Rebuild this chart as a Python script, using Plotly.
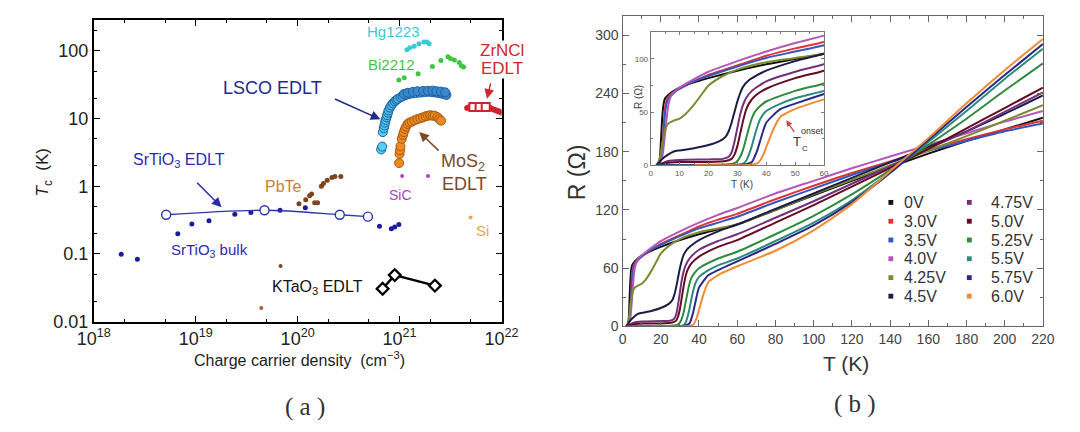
import plotly.graph_objects as go

W, H = 1080, 432
def px(x):
    return x / W
def py(y):
    return 1 - y / H

# ================= Panel (a) data =================
sto_bulk_n = [1.86e18, 2.68e18, 6.67e18, 9.17e18, 1.35e19, 2.42e19, 3.48e19, 6.72e19, 1.19e20,
              6.35e20, 8.3e20, 8.96e20, 9.84e20]
sto_bulk_tc = [0.099, 0.083, 0.199, 0.277, 0.31, 0.386, 0.409, 0.441, 0.482,
               0.255, 0.235, 0.249, 0.272]

sto_edlt_n = [5.13e18, 4.73e19, 2.59e20, 4.89e20]
sto_edlt_tc = [0.379, 0.441, 0.379, 0.355]

ktao_n = [6.82e20, 8.96e20, 2.22e21]
ktao_tc = [0.0305, 0.0486, 0.034]

pbte_n = [1.03e20, 1.2e20, 1.31e20, 1.37e20, 1.47e20, 1.57e20, 1.71e20, 1.79e20, 1.95e20,
          2.17e20, 2.32e20, 2.65e20]
pbte_tc = [0.55, 0.63, 0.72, 0.77, 0.57, 0.57, 1.0, 1.1, 1.22, 1.35, 1.39, 1.39]

other_n = [6.8e19, 4.4e19]
other_tc = [0.066, 0.0159]

lsco_n = [6.6e20, 6.75e20, 6.85e20, 7.0e20, 7.1e20, 7.2e20, 7.3e20, 7.45e20, 7.55e20, 7.7e20,
          7.8e20, 8.05e20, 8.3e20, 8.6e20, 8.95e20, 9.3e20, 9.6e20, 1.02e21, 1.07e21, 1.15e21,
          1.24e21, 1.33e21, 1.44e21, 1.55e21, 1.66e21, 1.79e21, 1.93e21, 2.08e21, 2.23e21,
          2.37e21, 2.5e21, 2.65e21, 2.88e21,
          1.1e21, 1.2e21, 1.35e21, 1.5e21, 1.7e21, 1.9e21, 2.1e21, 2.3e21, 2.55e21, 2.8e21]
lsco_tc = [3.5, 3.85, 6.3, 7.2, 7.9, 8.7, 9.5, 10.4, 11.2, 12.2,
           13.2, 14.5, 15.6, 16.8, 17.9, 18.8, 19.5, 20.5, 21.3, 22.2,
           23.0, 23.5, 23.8, 24.2, 24.3, 24.6, 24.9, 24.6, 24.3,
           24.0, 23.6, 23.2, 22.3,
           23.0, 24.0, 24.8, 25.3, 25.6, 25.7, 25.8, 25.4, 25.0, 24.4]

mos2_n = [9.9e20, 1.0e21, 1.01e21, 1.02e21, 1.05e21, 1.08e21, 1.1e21, 1.13e21, 1.16e21, 1.2e21,
          1.25e21, 1.32e21, 1.4e21, 1.5e21, 1.6e21, 1.7e21, 1.8e21, 1.9e21, 2.0e21, 2.1e21,
          2.2e21, 2.35e21, 2.45e21, 2.55e21]
mos2_tc = [2.2, 3.0, 3.4, 3.9, 5.0, 5.7, 6.3, 7.0, 7.6, 8.3,
           8.7, 9.0, 9.4, 9.8, 10.1, 10.4, 10.8, 11.0, 11.2, 11.0,
           11.0, 10.5, 9.8, 9.3]

bi_n = [9.84e20, 1.11e21, 1.52e21, 2.1e21, 2.54e21, 2.98e21, 3.16e21, 3.45e21, 3.85e21, 4.05e21, 4.24e21]
bi_tc = [37, 40, 46, 58.9, 71.8, 82, 77.4, 73.5, 67.2, 60.3, 57.5]

hg_n = [1.18e21, 1.26e21, 1.39e21, 1.55e21, 1.73e21, 1.86e21, 1.95e21]
hg_tc = [104, 111, 117, 127, 135, 135, 127]

sic_n = [1.06e21, 1.9e21]
sic_tc = [1.41, 1.41]

si_n = [4.97e21]
si_tc = [0.346]

zr_dot_n = [4.6e21, 4.85e21, 7.6e21, 8.0e21, 8.5e21, 9.0e21, 9.5e21, 1.0e22]
zr_dot_tc = [14.3, 14.8, 14.6, 14.0, 13.5, 13.0, 12.7, 12.3]
zr_sq_n = [5.3e21, 6.1e21, 7.0e21]
zr_sq_tc = [14.8, 14.8, 14.8]

a_xticks = [1e18, 1e19, 1e20, 1e21, 1e22]
a_xtext = ["10<sup>18</sup>", "10<sup>19</sup>", "10<sup>20</sup>", "10<sup>21</sup>", "10<sup>22</sup>"]
a_yticks = [0.01, 0.1, 1, 10, 100]
a_ytext = ["0.01", "0.1", "1", "10", "100"]

# ================= Panel (b) data =================
voltages = ["0V", "3.0V", "3.5V", "4.0V", "4.25V", "4.5V", "4.75V", "5.0V", "5.25V", "5.5V", "5.75V", "6.0V"]

T_0V = [2, 3, 3.5, 4, 4.5, 5, 6, 8, 10, 15, 20, 30, 40, 50, 60, 80, 100, 120, 140, 160, 180, 200, 220]
R_0V = [0, 4, 20, 45, 58, 63, 66, 70, 73, 78, 82, 89, 95, 100, 105, 120, 135, 150, 164, 178, 191, 203, 215]

T_30V = [2, 3, 4, 4.5, 5, 6, 8, 10, 15, 20, 30, 40, 50, 60, 80, 100, 120, 140, 160, 180, 200, 220]
R_30V = [0, 3, 15, 35, 55, 64, 69, 72, 79, 85, 94, 103, 110, 116, 131, 145, 158, 170, 182, 193, 203, 212]

T_35V = [2, 3, 4, 4.5, 5, 6, 8, 10, 15, 20, 30, 40, 50, 60, 80, 100, 120, 140, 160, 180, 200, 220]
R_35V = [0, 3, 12, 30, 50, 62, 68, 72, 79, 84, 93, 101, 107, 113, 128, 142, 156, 169, 181, 191, 201, 209]

T_40V = [2, 3, 4, 5, 6, 7, 8, 10, 15, 20, 30, 40, 50, 60, 80, 100, 120, 140, 160, 180, 200, 220]
R_40V = [0, 2, 8, 30, 55, 65, 69, 73, 81, 88, 98, 107, 115, 122, 137, 150, 163, 175, 187, 199, 211, 222]

T_425V = [2, 3, 4, 5, 6, 8, 10, 12, 15, 18, 20, 25, 30, 40, 50, 60, 80, 100, 120, 140, 160, 180, 200, 220]
R_425V = [0, 5, 20, 33, 39, 42, 44, 48, 57, 68, 75, 84, 90, 97, 101, 105, 120, 136, 151, 166, 181, 196, 212, 228]

T_45V = [2, 3, 4, 6, 8, 10, 15, 20, 24, 26, 27, 28, 29, 30, 31, 32, 34, 37, 40, 50, 60,
         80, 100, 120, 140, 160, 180, 200, 220]
R_45V = [0, 3, 6, 10, 13, 14, 16, 19, 23, 27, 32, 40, 50, 60, 68, 74, 80, 85, 89, 98, 105,
         121, 137, 153, 169, 185, 201, 219, 238]

T_475V = [2, 4, 6, 10, 20, 25, 27, 28, 29, 30, 31, 32, 33, 35, 40, 50, 60,
          80, 100, 120, 140, 160, 180, 200, 220]
R_475V = [0, 2, 4, 5, 5.5, 6, 8, 12, 22, 35, 48, 57, 63, 70, 79, 88, 95,
          112, 129, 147, 165, 183, 201, 221, 241]

T_50V = [2, 5, 10, 20, 26, 28, 29, 30, 31, 32, 33, 34, 36, 40, 50, 60,
         80, 100, 120, 140, 160, 180, 200, 220]
R_50V = [0, 2, 3, 3, 4, 6, 10, 18, 30, 42, 52, 58, 65, 72, 82, 89,
         107, 125, 144, 163, 183, 204, 225, 246]

T_525V = [2, 10, 20, 27, 29, 30, 31, 32, 33, 34, 35, 36, 38, 40, 50, 60,
          80, 100, 120, 140, 160, 180, 200, 220]
R_525V = [0, 0, 0.5, 1, 2, 4, 8, 15, 25, 35, 44, 50, 56, 60, 70, 77,
          95, 114, 136, 161, 187, 214, 243, 271]

T_55V = [2, 20, 30, 32, 33, 34, 35, 36, 37, 38, 40, 45, 50, 60,
         80, 100, 120, 140, 160, 180, 200, 220]
R_55V = [0, 0, 0.5, 1.5, 4, 10, 18, 28, 37, 44, 51, 58, 63, 70,
         88, 107, 130, 159, 190, 222, 255, 286]

T_575V = [2, 30, 33, 35, 36, 37, 38, 39, 40, 42, 45, 50, 60,
          80, 100, 120, 140, 160, 180, 200, 220]
R_575V = [0, 0, 1, 3, 8, 15, 24, 33, 40, 46, 53, 58, 67,
          85, 104, 128, 158, 192, 226, 259, 291]

T_60V = [15, 30, 35, 37, 38, 39, 40, 41, 42, 43, 44, 45, 47, 50, 60,
         80, 100, 120, 140, 160, 180, 200, 220]
R_60V = [0, 0, 0.5, 2, 5, 10, 17, 24, 31, 37, 42, 46, 49, 53, 62,
         78, 99, 126, 160, 194, 230, 264, 296]

b_T = [T_0V, T_30V, T_35V, T_40V, T_425V, T_45V, T_475V, T_50V, T_525V, T_55V, T_575V, T_60V]
b_R = [R_0V, R_30V, R_35V, R_40V, R_425V, R_45V, R_475V, R_50V, R_525V, R_55V, R_575V, R_60V]

b_colors = ["#111111", "#e03434", "#3556bd", "#b258b8", "#7c8c32", "#1c1c48",
            "#74307a", "#650c22", "#2f8a3c", "#2c8a80", "#2a2a86", "#f08c34"]

# ================= Figure =================
fig = go.Figure()

def lin_hex(c1, c2, t):
    a = [int(c1[i:i + 2], 16) for i in (1, 3, 5)]
    b = [int(c2[i:i + 2], 16) for i in (1, 3, 5)]
    return "#" + "".join("%02x" % round(a[k] + (b[k] - a[k]) * t) for k in range(3))

fig.add_trace(go.Scatter(x=sto_bulk_n, y=sto_bulk_tc, mode="markers", xaxis="x", yaxis="y",
                         marker=dict(size=5, color="#1c1c9c")))
fig.add_trace(go.Scatter(x=sto_edlt_n, y=sto_edlt_tc, mode="lines+markers", xaxis="x", yaxis="y",
                         line=dict(color="#2836b0", width=1.3, shape="spline", smoothing=1.0),
                         marker=dict(size=9, color="white", line=dict(color="#2836b0", width=1.4))))
fig.add_trace(go.Scatter(x=ktao_n, y=ktao_tc, mode="lines+markers", xaxis="x", yaxis="y",
                         line=dict(color="black", width=2.5),
                         marker=dict(size=9, symbol="diamond", color="white",
                                     line=dict(color="black", width=2.3))))
fig.add_trace(go.Scatter(x=pbte_n, y=pbte_tc, mode="markers", xaxis="x", yaxis="y",
                         marker=dict(size=5, color="#7e4420")))
fig.add_trace(go.Scatter(x=other_n, y=other_tc, mode="markers", xaxis="x", yaxis="y",
                         marker=dict(size=4, color=["#7e4420", "#b0602c"])))
fig.add_trace(go.Scatter(x=sic_n, y=sic_tc, mode="markers", xaxis="x", yaxis="y",
                         marker=dict(size=4, color="#b040c0")))
fig.add_trace(go.Scatter(x=si_n, y=si_tc, mode="markers", xaxis="x", yaxis="y",
                         marker=dict(size=4, color="#f0a050")))
fig.add_trace(go.Scatter(x=bi_n, y=bi_tc, mode="markers", xaxis="x", yaxis="y",
                         marker=dict(size=5, color="#3cc83c")))
fig.add_trace(go.Scatter(x=hg_n, y=hg_tc, mode="markers", xaxis="x", yaxis="y",
                         marker=dict(size=5, color="#3ccad2")))
lsco_cols = [lin_hex("#56d4f4", "#3a86cc", min(1.0, i / 32)) for i in range(len(lsco_n))]
fig.add_trace(go.Scatter(x=lsco_n, y=lsco_tc, mode="markers", xaxis="x", yaxis="y",
                         marker=dict(size=9, color=lsco_cols, line=dict(color="#1d5f9e", width=1))))
fig.add_trace(go.Scatter(x=mos2_n, y=mos2_tc, mode="markers", xaxis="x", yaxis="y",
                         marker=dict(size=9, color="#ea8a20", line=dict(color="#a85810", width=1))))
fig.add_trace(go.Scatter(x=zr_dot_n, y=zr_dot_tc, mode="markers", xaxis="x", yaxis="y",
                         marker=dict(size=6, color="#d0242c")))
fig.add_trace(go.Scatter(x=zr_sq_n, y=zr_sq_tc, mode="markers", xaxis="x", yaxis="y",
                         marker=dict(size=8, symbol="square", color="white",
                                     line=dict(color="#d0242c", width=2))))

for T, R, c in zip(b_T, b_R, b_colors):
    for ax_x, ax_y in (("x2", "y2"), ("x3", "y3")):
        fig.add_trace(go.Scatter(x=T, y=R, mode="lines", xaxis=ax_x, yaxis=ax_y,
                                 line=dict(color=c, width=2, shape="spline", smoothing=0.6)))

a_minor = [m * 10.0 ** e for e in range(18, 22) for m in (2, 5)]
a_yminor = [m * 10.0 ** e for e in range(-2, 3) for m in (2, 5)]

common_a = dict(showline=True, linecolor="black", linewidth=1.6, mirror="ticks", ticks="inside",
                ticklen=6, tickwidth=1.2, tickcolor="black", showgrid=False, zeroline=False,
                tickfont=dict(family="Liberation Sans, Arial", size=18, color="#222"))
common_b = dict(showline=True, linecolor="#666", linewidth=1.4, mirror="ticks", ticks="inside",
                ticklen=6, tickwidth=1.2, tickcolor="#666", showgrid=False, zeroline=False,
                tickfont=dict(family="Liberation Sans, Arial", size=14, color="#444"))
common_i = dict(showline=True, linecolor="#777", linewidth=1.0, mirror="ticks", ticks="inside",
                ticklen=3, tickwidth=0.8, tickcolor="#777", showgrid=False, zeroline=False,
                tickfont=dict(family="Liberation Sans, Arial", size=8, color="#555"))

fig.update_layout(
    width=W, height=H, margin=dict(l=0, r=0, t=0, b=0),
    paper_bgcolor="white", plot_bgcolor="white", showlegend=False,
    xaxis=dict(domain=[px(71), px(492)], type="log", range=[18, 22], anchor="y",
               tickmode="array", tickvals=a_xticks, ticktext=a_xtext,
               minor=dict(tickmode="array", tickvals=a_minor, ticks="inside", ticklen=3,
                          tickcolor="black"), **common_a),
    yaxis=dict(domain=[py(321), py(12)], type="log", range=[-2, 2.46], anchor="x",
               tickmode="array", tickvals=a_yticks, ticktext=a_ytext,
               minor=dict(tickmode="array", tickvals=a_yminor, ticks="inside", ticklen=3,
                          tickcolor="black"), **common_a),
    xaxis2=dict(domain=[px(617), px(1051)], range=[0, 220], anchor="y2", dtick=20,
                minor=dict(dtick=10, ticks="inside", ticklen=3, tickcolor="#666"), **common_b),
    yaxis2=dict(domain=[py(326), py(8)], range=[0, 320], anchor="x2", dtick=60,
                minor=dict(dtick=30, ticks="inside", ticklen=3, tickcolor="#666"), **common_b),
    xaxis3=dict(domain=[px(646), px(825)], range=[0, 60], anchor="y3", dtick=10,
                minor=dict(dtick=5, ticks="inside", ticklen=2, tickcolor="#777"), **common_i),
    yaxis3=dict(domain=[py(161), py(25)], range=[0, 125], anchor="x3", dtick=50,
                minor=dict(dtick=25, ticks="inside", ticklen=2, tickcolor="#777"), **common_i),
)

ann = []
def txt(x, y, s, size, color, angle=0, family="Liberation Sans, Arial", xanchor="center", bg=None):
    d = dict(x=px(x), y=py(y), xref="paper", yref="paper", text=s, showarrow=False,
             xanchor=xanchor, yanchor="middle", textangle=angle,
             font=dict(family=family, size=size, color=color))
    if bg:
        d["bgcolor"] = bg
        d["borderpad"] = 0
    ann.append(d)

def arrow(x0, y0, x1, y1, color, width=1.5, size=1.3):
    ann.append(dict(x=px(x1), y=py(y1), xref="paper", yref="paper", ax=x0 - x1, ay=y0 - y1,
                    text="", showarrow=True, arrowhead=2, arrowsize=size, arrowwidth=width,
                    arrowcolor=color))

txt(380, 24, "Hg1223", 15, "#3ccad2")
txt(378, 58, "Bi2212", 15, "#3cc83c")
txt(256, 82, "LSCO EDLT", 18, "#1f2a8a")
txt(493, 43, "ZrNCl", 17, "#d0282e", bg="white")
txt(492, 62, "EDLT", 17, "#d0282e", bg="white")
txt(452, 158, "MoS<sub>2</sub>", 18, "#7a4a2a")
txt(454, 180, "EDLT", 18, "#7a4a2a")
txt(388, 191, "SiC", 14, "#b040c0")
txt(267, 183, "PbTe", 16, "#c8803c")
txt(159, 156, "SrTiO<sub>3</sub> EDLT", 16, "#2b2bb0")
txt(191, 248, "SrTiO<sub>3</sub> bulk", 15, "#2b2bb0")
txt(302, 286, "KTaO<sub>3</sub> EDLT", 16, "#111")
txt(472, 228, "Si", 15, "#f0a050")
txt(283, 359, "Charge carrier density  (cm<sup>−3</sup>)", 16, "#222")
txt(20, 168, "<i>T</i><sub>c</sub>  (K)", 17, "#222", angle=-90)

arrow(320, 93, 367, 114, "#1f2a8a")
arrow(177, 178, 203, 204, "#2b2bb0")
arrow(428, 147, 407, 127, "#7a4a2a")
arrow(481, 76, 477, 93, "#d0282e")

txt(570, 168, "R (Ω)", 23, "#333", angle=-90)
txt(848, 364, "T (K)", 21, "#333")
txt(634, 91, "R (Ω)", 10, "#444", angle=-90)
txt(740, 181, "T (K)", 10, "#444")
txt(797, 137, "T", 13, "#333")
txt(813, 126, "onset", 9, "#333")
txt(805, 144, "C", 8, "#333")
arrow(795, 128, 786, 115, "#d04040", width=1.2, size=1.0)

txt(289, 408, "( a )", 25, "#333", family="Liberation Serif, serif")
txt(857, 405, "( b )", 25, "#333", family="Liberation Serif, serif")

shapes = []
rows_y = [199, 218.3, 237.5, 256.7, 276, 295]
for i, (name, c) in enumerate(zip(voltages, b_colors)):
    col, row = divmod(i, 6)
    mx = 894 if col == 0 else 975
    tx = 906 if col == 0 else 995
    y = rows_y[row]
    shapes.append(dict(type="rect", xref="paper", yref="paper", x0=px(mx - 2.5), x1=px(mx + 2.5),
                       y0=py(y + 2.5), y1=py(y - 2.5), fillcolor=c, line=dict(width=0)))
    txt(tx, y, name, 16, "#333", xanchor="left")

fig.update_layout(annotations=ann, shapes=shapes)
fig.write_html("out.html")
